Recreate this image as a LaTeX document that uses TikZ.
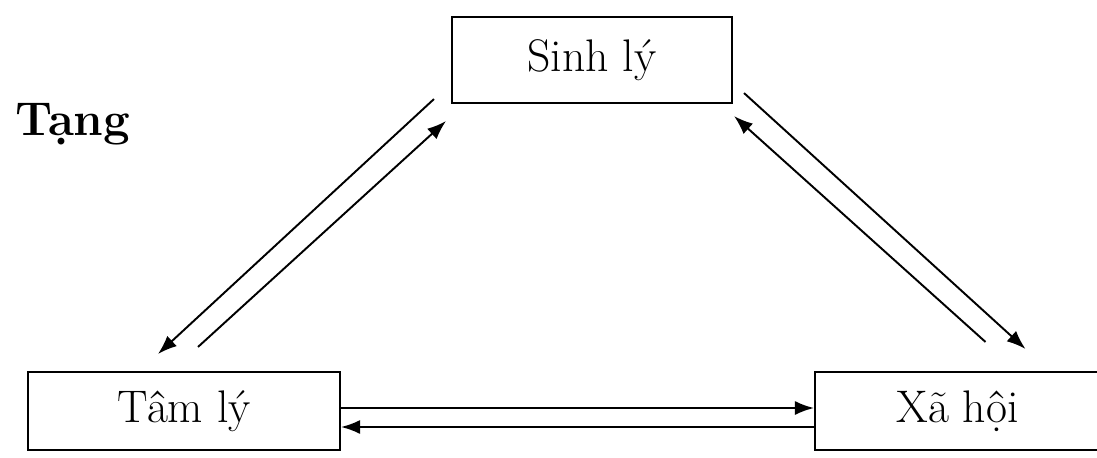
\documentclass[tikz,border=0pt]{standalone}
\usepackage{tikz}
\usetikzlibrary{arrows.meta,calc,positioning}

\begin{document}
\begin{tikzpicture}[x=0.02cm, y=-0.02cm, >={Latex[length=0.38cm,width=0.28cm]},
    box/.style={draw, line width=1.2pt, inner sep=0pt, font=\fontsize{26}{30}\selectfont},
    link/.style={->, line width=1.1pt}]
    \useasboundingbox (0,0) rectangle (1097,457);

    % the three boxes
    \node[box, minimum width=5.6cm, minimum height=1.72cm] (sinh) at (592,60) {Sinh lý};
    \node[box, minimum width=6.24cm, minimum height=1.56cm] (tam) at (184,411) {Tâm lý};
    \node[box, minimum width=5.7cm, minimum height=1.56cm] (xahoi) at (957.5,411) {Xã hội};

    \node[anchor=base west, inner sep=0pt, font=\bfseries\fontsize{27}{32}\selectfont] (tang) at (15,135) {Tạng};

    % pairs of arrows
    \draw[link] ($(sinh.south west)+(-17,-5)$) -- ($(tam.north)+(-26,-17)$);
    \draw[link] ($(tam.north)+(14,-24)$) -- ($(sinh.south west)+(-5,17)$);
    \draw[link] ($(sinh.south east)+(11,-11)$) -- ($(xahoi.north)+(68,-22)$);
    \draw[link] ($(xahoi.north)+(28,-29)$) -- ($(sinh.south east)+(1,12)$);
    \draw[link] ([yshift=0.06cm]tam.east) -- ([yshift=0.06cm]xahoi.west);
    \draw[link] ([yshift=-0.32cm]xahoi.west) -- ([yshift=-0.32cm]tam.east);
\end{tikzpicture}
\end{document}
